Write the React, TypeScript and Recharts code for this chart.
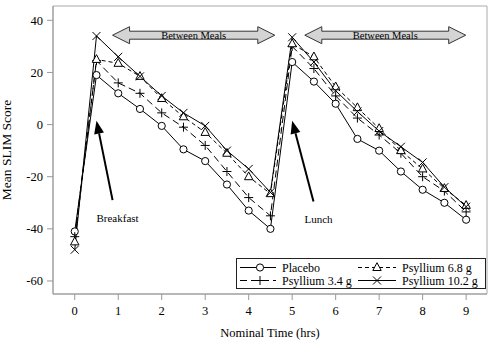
import React from "react"
import { LineChart, Line, XAxis, YAxis, Legend, ReferenceArea, ReferenceLine } from "recharts"

const times = [0, 0.5, 1, 1.5, 2, 2.5, 3, 3.5, 4, 4.5, 5, 5.5, 6, 6.5, 7, 7.5, 8, 8.5, 9]
const placebo = [-41, 19, 12, 6, -0.5, -9.5, -14, -23, -33, -40, 24, 16.5, 8, -5.5, -10, -18, -25, -30, -36.5]
const psyllium34 = [-43, 24.5, 16, 12, 4.5, -1, -8, -18, -28, -35, 30, 21.5, 11, 2.5, -4, -11, -20, -25.5, -33.5]
const psyllium68 = [-45, 25, 23.5, 18.5, 10, 3, -3, -11, -20, -26.5, 31, 26, 14.5, 6.5, -1.5, -10, -17, -24.5, -31]
const psyllium102 = [-48, 34, 26, 18.5, 11, 4.5, -0.5, -10, -17, -26, 33.5, 24, 13, 5, -2.5, -8.5, -14.5, -24, -31.5]

const xTicks = [0, 1, 2, 3, 4, 5, 6, 7, 8, 9]
const yTicks = [-60, -40, -20, 0, 20, 40]

const data = times.map((t, i) => ({
  time: t,
  placebo: placebo[i],
  p34: psyllium34[i],
  p68: psyllium68[i],
  p102: psyllium102[i],
}))

const series = [
  { key: "placebo", name: "Placebo", marker: "circle", dash: undefined },
  { key: "p34", name: "Psyllium 3.4 g", marker: "plus", dash: "7 4" },
  { key: "p68", name: "Psyllium 6.8 g", marker: "triangle", dash: "4 3" },
  { key: "p102", name: "Psyllium 10.2 g", marker: "cross", dash: undefined },
]

const FONT = '"Liberation Serif", "DejaVu Serif", serif'
const txt = { fontFamily: FONT }

function Marker({ kind, cx, cy }: { kind: string; cx: number; cy: number }) {
  if (cx == null || cy == null) return null
  if (kind === "circle") return <circle cx={cx} cy={cy} r={3.6} fill="#fff" stroke="#000" strokeWidth={1} />
  if (kind === "triangle")
    return (
      <polygon
        points={`${cx},${cy - 4.8} ${cx - 4.2},${cy + 3} ${cx + 4.2},${cy + 3}`}
        fill="#fff"
        stroke="#000"
        strokeWidth={1}
      />
    )
  if (kind === "plus")
    return (
      <g stroke="#000" strokeWidth={1}>
        <line x1={cx - 4.5} y1={cy} x2={cx + 4.5} y2={cy} />
        <line x1={cx} y1={cy - 4.5} x2={cx} y2={cy + 4.5} />
      </g>
    )
  return (
    <g stroke="#000" strokeWidth={1}>
      <line x1={cx - 4} y1={cy - 4} x2={cx + 4} y2={cy + 4} />
      <line x1={cx - 4} y1={cy + 4} x2={cx + 4} y2={cy - 4} />
    </g>
  )
}

function MealsArrow(props: any) {
  const { x1, x2, y1 } = props
  const h = 17
  const y = y1
  const pts = [
    [x1, y],
    [x1 + h, y - 8.5],
    [x1 + h, y - 4],
    [x2 - h, y - 4],
    [x2 - h, y - 8.5],
    [x2, y],
    [x2 - h, y + 8.5],
    [x2 - h, y + 4],
    [x1 + h, y + 4],
    [x1 + h, y + 8.5],
  ]
    .map((p) => p.join(","))
    .join(" ")
  return (
    <g>
      <polygon points={pts} fill="#d4d4d4" stroke="#333" strokeWidth={1} />
      <text x={(x1 + x2) / 2} y={y + 3.5} textAnchor="middle" fontSize={10.5} style={txt} fill="#000">
        Between Meals
      </text>
    </g>
  )
}

function MealPointer(props: any) {
  const { x1, y1, x2, y2, text } = props
  const dx = x2 - x1
  const dy = y2 - y1
  const len = Math.sqrt(dx * dx + dy * dy)
  const ux = dx / len
  const uy = dy / len
  const hl = 13
  const hw = 5
  const bx = x2 - ux * hl
  const by = y2 - uy * hl
  return (
    <g>
      <line x1={x1} y1={y1} x2={bx} y2={by} stroke="#000" strokeWidth={2} />
      <polygon
        points={`${x2},${y2} ${bx - uy * hw},${by + ux * hw} ${bx + uy * hw},${by - ux * hw}`}
        fill="#000"
      />
      <text x={x1 + 5} y={y1 + 22} textAnchor="middle" fontSize={11} style={txt} fill="#000">
        {text}
      </text>
    </g>
  )
}

function LegendBox() {
  const cells = [
    { s: series[0], col: 0, row: 0 },
    { s: series[2], col: 1, row: 0 },
    { s: series[1], col: 0, row: 1 },
    { s: series[3], col: 1, row: 1 },
  ]
  const cols = [
    { l: 4, r: 40, m: 24, t: 46 },
    { l: 122, r: 160, m: 141, t: 166 },
  ]
  const rows = [9.5, 22.5]
  return (
    <svg width={250} height={31} style={{ display: "block" }}>
      <rect x={0.5} y={0.5} width={249} height={30} fill="#fff" stroke="#222" strokeWidth={1} />
      {cells.map(({ s, col, row }) => {
        const c = cols[col]
        const y = rows[row]
        return (
          <g key={s.key}>
            <line x1={c.l} y1={y} x2={c.r} y2={y} stroke="#000" strokeWidth={1} strokeDasharray={s.dash} />
            <Marker kind={s.marker} cx={c.m} cy={y} />
            <text x={c.t} y={y + 4} fontSize={12} style={txt} fill="#000">
              {s.name}
            </text>
          </g>
        )
      })}
    </svg>
  )
}

export default function App() {
  return (
    <div style={{ position: "absolute", left: 0, top: 0, fontFamily: FONT, background: "#fff" }}>
      <LineChart width={490} height={345} data={data} margin={{ top: 6, right: 3, left: 0, bottom: 0 }}>
        <ReferenceArea x1={-0.5} x2={9.48} y1={-65} y2={45.5} fill="none" stroke="#aaa" strokeWidth={1} />
        <XAxis
          dataKey="time"
          type="number"
          domain={[-0.5, 9.48]}
          ticks={xTicks}
          height={51}
          stroke="#999"
          tickSize={6}
          tickMargin={6}
          tick={{ fill: "#000", fontSize: 12.5, style: txt }}
          label={{
            content: ({ viewBox }: any) => (
              <text
                x={viewBox.x + viewBox.width / 2}
                y={337}
                textAnchor="middle"
                fontSize={12.5}
                style={txt}
                fill="#000"
              >
                Nominal Time (hrs)
              </text>
            ),
          }}
        />
        <YAxis
          type="number"
          domain={[-65, 45.5]}
          ticks={yTicks}
          width={53}
          stroke="#999"
          tickSize={6}
          tickMargin={4}
          tick={{ fill: "#000", fontSize: 12.5, style: txt }}
          label={{
            content: ({ viewBox }: any) => {
              const x = 11
              const y = viewBox.y + viewBox.height / 2
              return (
                <text
                  x={x}
                  y={y}
                  transform={`rotate(-90, ${x}, ${y})`}
                  textAnchor="middle"
                  fontSize={13.5}
                  style={txt}
                  fill="#000"
                >
                  Mean SLIM Score
                </text>
              )
            },
          }}
        />
        <ReferenceLine segment={[{ x: 0.87, y: 34.3 }, { x: 4.6, y: 34.3 }]} shape={<MealsArrow />} />
        <ReferenceLine segment={[{ x: 5.29, y: 34.3 }, { x: 8.99, y: 34.3 }]} shape={<MealsArrow />} />
        <ReferenceLine segment={[{ x: 0.87, y: -29 }, { x: 0.5, y: 1.5 }]} shape={<MealPointer text="Breakfast" />} />
        <ReferenceLine segment={[{ x: 5.49, y: -29.5 }, { x: 5.0, y: 1.5 }]} shape={<MealPointer text="Lunch" />} />
        {series.map((s) => (
          <Line
            key={s.key}
            dataKey={s.key}
            name={s.name}
            type="linear"
            stroke="#000"
            strokeWidth={1}
            strokeDasharray={s.dash}
            isAnimationActive={false}
            dot={(p: any) => <Marker key={`${s.key}-${p.index}`} kind={s.marker} cx={p.cx} cy={p.cy} />}
            activeDot={false}
          />
        ))}
        <Legend
          layout="vertical"
          align="center"
          verticalAlign="middle"
          wrapperStyle={{ position: "absolute", left: 236, top: 258, width: 250, height: 31 }}
          content={() => <LegendBox />}
        />
      </LineChart>
    </div>
  )
}
